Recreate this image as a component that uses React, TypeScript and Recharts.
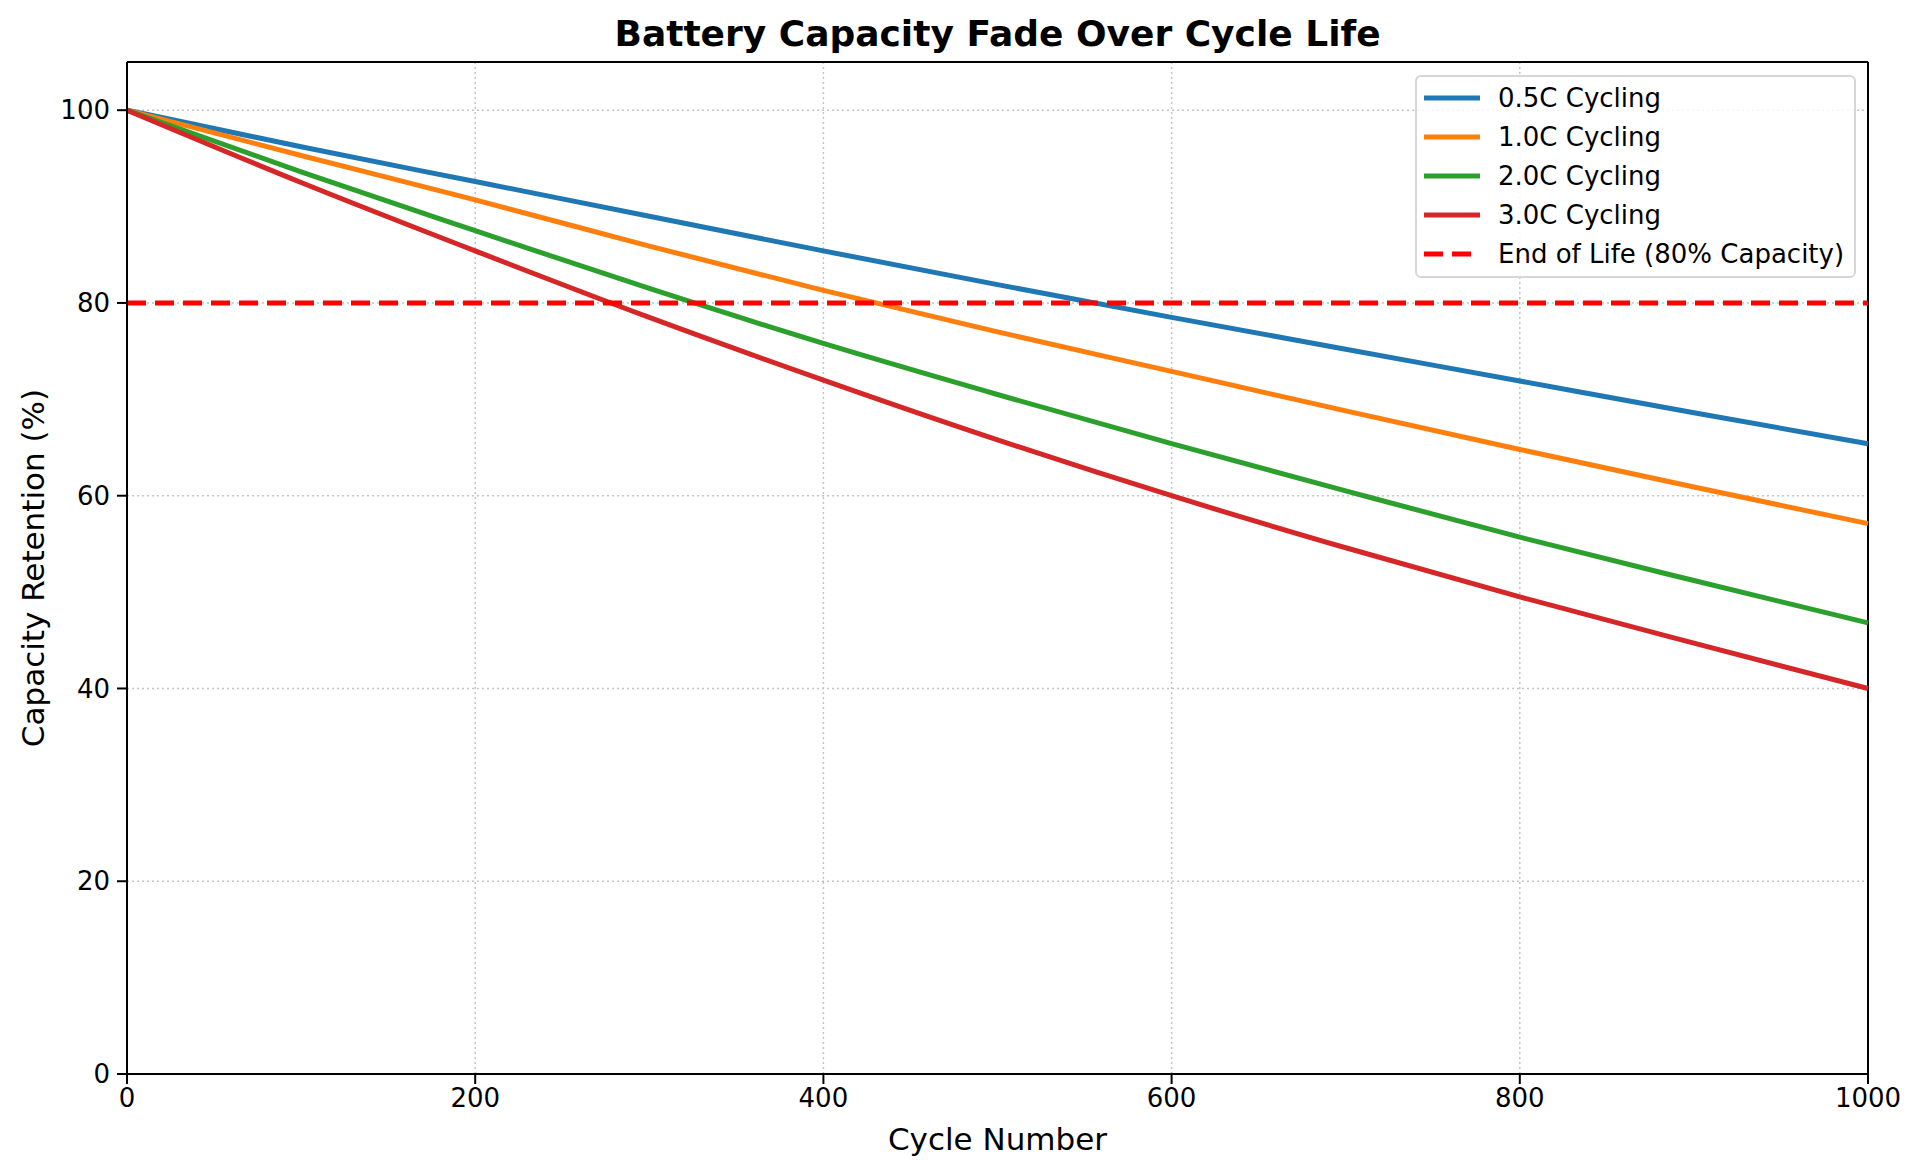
import { LineChart, Line, XAxis, YAxis, CartesianGrid, ReferenceLine } from 'recharts';

const cycles = [0, 100, 200, 300, 400, 500, 600, 700, 800, 900, 1000];
const rate05 = [100, 96.2, 92.6, 89.0, 85.4, 81.9, 78.5, 75.2, 71.9, 68.6, 65.4];
const rate10 = [100, 95.3, 90.7, 85.9, 81.3, 77.0, 72.9, 68.8, 64.8, 60.9, 57.1];
const rate20 = [100, 93.6, 87.5, 81.5, 75.8, 70.5, 65.4, 60.5, 55.7, 51.2, 46.8];
const rate30 = [100, 92.5, 85.4, 78.5, 72.0, 65.8, 60.0, 54.6, 49.5, 44.7, 40.0];
const xTicks = [0, 200, 400, 600, 800, 1000];
const yTicks = [0, 20, 40, 60, 80, 100];
const endOfLife = 80;

const series = [
  { key: 'c05', name: '0.5C Cycling', color: '#1f77b4', values: rate05 },
  { key: 'c10', name: '1.0C Cycling', color: '#ff7f0e', values: rate10 },
  { key: 'c20', name: '2.0C Cycling', color: '#2ca02c', values: rate20 },
  { key: 'c30', name: '3.0C Cycling', color: '#d62728', values: rate30 },
];

const data = cycles.map((cycle, i) => {
  const row: Record<string, number> = { cycle };
  series.forEach((s) => {
    row[s.key] = s.values[i];
  });
  return row;
});

const font = '"DejaVu Sans", sans-serif';
const tickStyle = { fill: '#000', fontSize: 26, fontFamily: font };

const legendItems = [
  ...series.map((s) => ({ name: s.name, color: s.color, dash: undefined as string | undefined })),
  { name: 'End of Life (80% Capacity)', color: '#ff0000', dash: '19 9' },
];

export default function App() {
  return (
    <div style={{ position: 'absolute', left: 0, top: 0, width: 1920, height: 1175, background: '#fff', fontFamily: font }}>
      <div
        style={{
          position: 'absolute',
          left: 127,
          width: 1741,
          top: 12,
          textAlign: 'center',
          fontWeight: 'bold',
          fontSize: 36,
          lineHeight: '44px',
        }}
      >
        Battery Capacity Fade Over Cycle Life
      </div>
      <LineChart width={1920} height={1175} data={data} margin={{ top: 62, right: 52, left: 0, bottom: 0 }}>
        <CartesianGrid stroke="#c4c4c4" strokeDasharray="2 3" strokeWidth={1.5} />
        <XAxis
          dataKey="cycle"
          type="number"
          domain={[0, 1000]}
          ticks={xTicks}
          height={101}
          tick={tickStyle}
          tickSize={10}
          tickMargin={5}
          stroke="#000"
          strokeWidth={2}
          tickLine={{ stroke: '#000', strokeWidth: 2 }}
        />
        <YAxis
          type="number"
          domain={[0, 105]}
          ticks={yTicks}
          width={127}
          tick={tickStyle}
          tickSize={10}
          tickMargin={7}
          stroke="#000"
          strokeWidth={2}
          tickLine={{ stroke: '#000', strokeWidth: 2 }}
          allowDataOverflow
        />
        <ReferenceLine y={105} stroke="#000" strokeWidth={2} />
        <ReferenceLine x={1000} stroke="#000" strokeWidth={2} />
        {series.map((s) => (
          <Line
            key={s.key}
            type="monotone"
            dataKey={s.key}
            name={s.name}
            stroke={s.color}
            strokeWidth={5}
            dot={false}
            activeDot={false}
            isAnimationActive={false}
          />
        ))}
        <ReferenceLine y={endOfLife} stroke="#ff0000" strokeWidth={5} strokeDasharray="19 9" />
      </LineChart>
      <div
        style={{
          position: 'absolute',
          left: 1415,
          top: 75,
          width: 441,
          height: 203,
          border: '2px solid #d6d6d6',
          borderRadius: 6,
          background: 'rgba(255,255,255,0.85)',
          boxSizing: 'border-box',
        }}
      >
        {legendItems.map((item, i) => (
          <div
            key={item.name}
            style={{ position: 'absolute', left: 5, top: 3 + i * 39, height: 36, display: 'flex', alignItems: 'center' }}
          >
            <svg width={60} height={10} style={{ marginRight: 16 }}>
              <line x1={2} y1={5} x2={58} y2={5} stroke={item.color} strokeWidth={5} strokeDasharray={item.dash} />
            </svg>
            <span style={{ fontSize: 26, whiteSpace: 'nowrap' }}>{item.name}</span>
          </div>
        ))}
      </div>
      <div style={{ position: 'absolute', left: 127, width: 1741, top: 1121, textAlign: 'center', fontSize: 31 }}>
        Cycle Number
      </div>
      <div
        style={{
          position: 'absolute',
          left: 33,
          top: 568,
          transform: 'translate(-50%, -50%) rotate(-90deg)',
          fontSize: 31,
          whiteSpace: 'nowrap',
        }}
      >
        Capacity Retention (%)
      </div>
    </div>
  );
}
